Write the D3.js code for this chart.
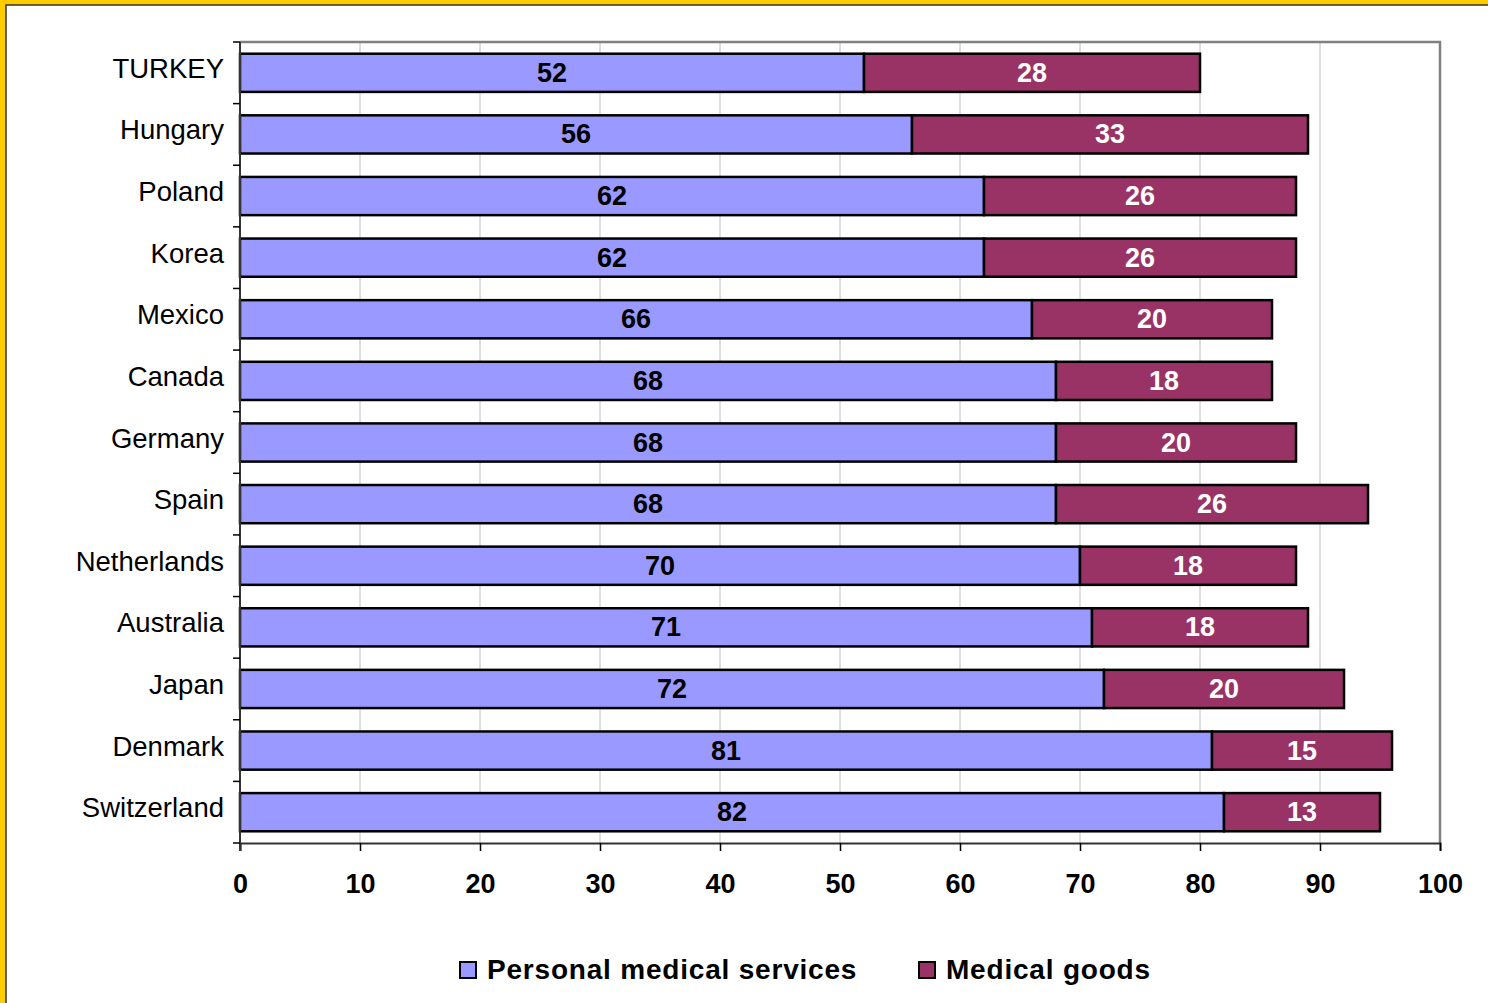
<!DOCTYPE html>
<html>
<head>
<meta charset="utf-8">
<script src="https://cdn.jsdelivr.net/npm/d3@7"></script>
<style>
  html, body { margin: 0; padding: 0; background: #fff; }
  svg { display: block; }
</style>
</head>
<body>
<svg id="chart" width="1488" height="1003"></svg>
<script>
// Health spending split, per cent of current health expenditure
const countries = ["TURKEY", "Hungary", "Poland", "Korea", "Mexico", "Canada", "Germany",
                   "Spain", "Netherlands", "Australia", "Japan", "Denmark", "Switzerland"];
const personalServices = [52, 56, 62, 62, 66, 68, 68, 68, 70, 71, 72, 81, 82];
const medicalGoods     = [28, 33, 26, 26, 20, 18, 20, 26, 18, 18, 20, 15, 13];
const xTicks = [0, 10, 20, 30, 40, 50, 60, 70, 80, 90, 100];
const seriesNames = ["Personal medical services", "Medical goods"];
const seriesColors = ["#9999FF", "#993366"];
const labelColors = ["#000000", "#FFFFFF"];

const svg = d3.select("#chart");
const W = 1488, H = 1003;
const font = "'Liberation Sans', Arial, sans-serif";

// Frame: yellow border on the top and left edges
svg.append("rect").attr("x", 0).attr("y", 0).attr("width", W).attr("height", H).attr("fill", "#FFCC00");
svg.append("rect").attr("x", 6).attr("y", 5).attr("width", W).attr("height", H)
  .attr("fill", "#fff").attr("stroke", "#333").attr("stroke-width", 1.5);

const plot = { left: 240, right: 1440, top: 42, bottom: 843 };

const x = d3.scaleLinear().domain([0, 100]).range([plot.left, plot.right]);
const y = d3.scaleBand().domain(countries).range([plot.top, plot.bottom])
  .paddingInner(0.38).paddingOuter(0.19);
const yFull = d3.scaleBand().domain(countries).range([plot.top, plot.bottom]);

// Vertical gridlines
svg.append("g").selectAll("line").data(xTicks.filter(t => t > 0 && t < 100)).join("line")
  .attr("x1", d => x(d)).attr("x2", d => x(d))
  .attr("y1", plot.top).attr("y2", plot.bottom)
  .attr("stroke", "#C0C0C0").attr("stroke-width", 1);

// Plot border (top and right)
svg.append("path")
  .attr("d", `M${plot.left},${plot.top}H${plot.right}V${plot.bottom}`)
  .attr("fill", "none").attr("stroke", "#808080").attr("stroke-width", 2.5);

// Stacked data
const rows = countries.map((c, i) => ({ c, vals: [personalServices[i], medicalGoods[i]] }));
const segs = [];
rows.forEach(r => {
  let acc = 0;
  r.vals.forEach((v, k) => {
    segs.push({ c: r.c, k, v, x0: acc, x1: acc + v });
    acc += v;
  });
});

svg.append("g").selectAll("rect").data(segs).join("rect")
  .attr("x", d => x(d.x0)).attr("y", d => y(d.c))
  .attr("width", d => x(d.x1) - x(d.x0)).attr("height", y.bandwidth())
  .attr("fill", d => seriesColors[d.k])
  .attr("stroke", "#000").attr("stroke-width", 2.5);

svg.append("g").selectAll("text").data(segs).join("text")
  .attr("x", d => (x(d.x0) + x(d.x1)) / 2)
  .attr("y", d => y(d.c) + y.bandwidth() / 2 + 9)
  .attr("text-anchor", "middle")
  .attr("font-family", font).attr("font-weight", "bold").attr("font-size", 27)
  .attr("fill", d => labelColors[d.k])
  .text(d => d.v);

// Axes
const xAxis = svg.append("g").attr("transform", `translate(0,${plot.bottom})`)
  .call(d3.axisBottom(x).tickValues(xTicks).tickSize(8).tickPadding(23));
xAxis.select(".domain").attr("stroke", "#333").attr("stroke-width", 2);
xAxis.selectAll(".tick line").attr("stroke", "#000").attr("stroke-width", 1.5);
xAxis.selectAll(".tick text")
  .attr("font-family", font).attr("font-weight", "bold").attr("font-size", 27).attr("fill", "#000");

const yAxisG = svg.append("g").attr("transform", `translate(${plot.left},0)`);
yAxisG.append("line").attr("x1", 0).attr("x2", 0).attr("y1", plot.top).attr("y2", plot.bottom + 8)
  .attr("stroke", "#333").attr("stroke-width", 2);
const boundaries = countries.map(c => yFull(c)).concat([plot.bottom]);
yAxisG.selectAll("line.tk").data(boundaries).join("line").attr("class", "tk")
  .attr("x1", -7).attr("x2", 0).attr("y1", d => d).attr("y2", d => d)
  .attr("stroke", "#000").attr("stroke-width", 1.5);
yAxisG.selectAll("text").data(countries).join("text")
  .attr("x", -16).attr("y", d => yFull(d) + yFull.bandwidth() / 2 + 5)
  .attr("text-anchor", "end")
  .attr("font-family", font).attr("font-size", 27.5).attr("fill", "#000")
  .text(d => d);

// Legend
const legend = svg.append("g");
const legendX = [460, 919];
seriesNames.forEach((name, k) => {
  const g = legend.append("g").attr("transform", `translate(${legendX[k]},962)`);
  g.append("rect").attr("x", 0).attr("y", 0).attr("width", 16).attr("height", 16)
    .attr("fill", seriesColors[k]).attr("stroke", "#000").attr("stroke-width", 2);
  g.append("text").attr("x", 27).attr("y", 17)
    .attr("font-family", font).attr("font-weight", "bold").attr("font-size", 28)
    .attr("letter-spacing", 0.8).attr("fill", "#000")
    .text(name);
});
</script>
</body>
</html>
